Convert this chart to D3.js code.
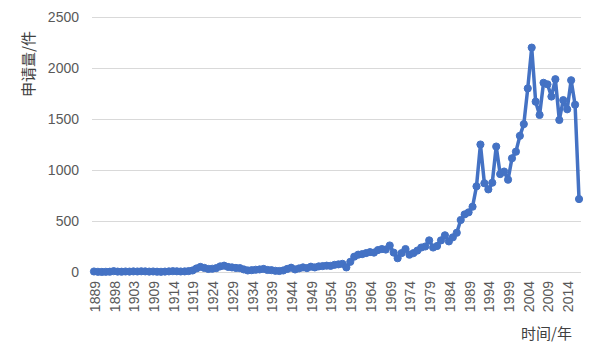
<!DOCTYPE html>
<html>
<head>
<meta charset="utf-8">
<script src="https://cdn.jsdelivr.net/npm/d3@7/dist/d3.min.js"></script>
<style>
  body { margin: 0; background: #fff; }
  svg text { font-family: "Liberation Sans", Arial, sans-serif; }
</style>
</head>
<body>
<div id="chart"></div>
<script>
// years on the category axis (some early years have no entry)
const years = [1889, 1890, 1892, 1895, 1897]
  .concat(d3.range(1898, 1907))
  .concat(d3.range(1908, 2018))

// applications per year
const counts = [
  5, 2, 1, 2, 3, 8, 4, 3, 5, 4,
  6, 5, 7, 6, 4, 5, 3, 2, 4, 6,
  8, 7, 5, 6, 9, 15, 35, 50, 40, 30,
  32, 38, 55, 62, 50, 45, 40, 38, 25, 15,
  18, 22, 25, 30, 20, 18, 12, 10, 15, 30,
  42, 25, 35, 45, 38, 52, 45, 55, 58, 62,
  60, 70, 75, 80, 45, 100, 150, 170, 175, 185,
  195, 190, 215, 225, 220, 260, 190, 135, 185, 225,
  170, 185, 210, 240, 250, 310, 240, 255, 310, 360,
  300, 340, 385, 510, 565, 585, 640, 840, 1250, 870,
  810, 875, 1230, 960, 985, 905, 1115, 1180, 1335, 1450,
  1800, 2200, 1670, 1540, 1855, 1840, 1720, 1890, 1490, 1685,
  1595, 1880, 1640, 715
]

const yTicks = [0, 500, 1000, 1500, 2000, 2500]
const yTitle = "申请量/件"
const xTitle = "时间/年"

const data = years.map((yr, i) => ({ year: String(yr), value: counts[i] }))

// plot box
const margin = { top: 17, right: 19, bottom: 88, left: 92 }
const W = 600, H = 360
const width = W - margin.left - margin.right
const height = H - margin.top - margin.bottom

const svg = d3.select("#chart")
  .append("svg")
  .attr("width", W)
  .attr("height", H)

const g = svg.append("g")
  .attr("transform", "translate(" + margin.left + "," + margin.top + ")")

const x = d3.scaleBand()
  .domain(data.map(d => d.year))
  .range([0, width])
  .padding(0)

const y = d3.scaleLinear()
  .domain([0, 2500])
  .range([height, 0])

// gridlines
g.append("g")
  .selectAll("line")
  .data(yTicks)
  .enter()
  .append("line")
    .attr("x1", 0)
    .attr("x2", width)
    .attr("y1", d => Math.round(y(d)) + 0.5)
    .attr("y2", d => Math.round(y(d)) + 0.5)
    .style("stroke", "#d9d9d9")
    .style("stroke-width", 1)

// y axis labels
const yAxis = g.append("g")
  .call(d3.axisLeft(y).tickValues(yTicks).tickFormat(d3.format("d")).tickSize(0).tickPadding(13))
yAxis.select(".domain").remove()
yAxis.selectAll("text")
  .style("font-size", "14px")
  .style("fill", "#595959")

// x axis, a label every 5th category
const xAxis = g.append("g")
  .attr("transform", "translate(0," + height + ")")
  .call(d3.axisBottom(x)
    .tickValues(data.filter((d, i) => i % 5 === 0).map(d => d.year))
    .tickSize(0))
xAxis.select(".domain").remove()
xAxis.selectAll("text")
  .style("font-size", "14px")
  .style("fill", "#595959")
  .style("text-anchor", "end")
  .attr("transform", "rotate(-90)")
  .attr("x", -9)
  .attr("y", 1)
  .attr("dy", "0.35em")

// the series
const cx = d => x(d.year) + x.bandwidth() / 2

g.append("path")
  .datum(data)
  .attr("fill", "none")
  .attr("stroke", "#4472c4")
  .attr("stroke-width", 3.5)
  .attr("stroke-linejoin", "round")
  .attr("d", d3.line().x(cx).y(d => y(d.value)))

g.selectAll("circle")
  .data(data)
  .enter()
  .append("circle")
    .attr("cx", cx)
    .attr("cy", d => y(d.value))
    .attr("r", 3.6)
    .style("fill", "#4472c4")
    .style("stroke", "#4472c4")
    .style("stroke-width", 1)

// axis titles
svg.append("text")
  .attr("transform", "translate(34,64) rotate(-90)")
  .attr("text-anchor", "middle")
  .style("font-family", "'Noto Sans CJK SC', sans-serif")
  .style("font-size", "15px")
  .style("fill", "#404040")
  .text(yTitle)

svg.append("text")
  .attr("x", 572)
  .attr("y", 339)
  .attr("text-anchor", "end")
  .style("font-family", "'Noto Sans CJK SC', sans-serif")
  .style("font-size", "15px")
  .style("fill", "#404040")
  .text(xTitle)
</script>
</body>
</html>
